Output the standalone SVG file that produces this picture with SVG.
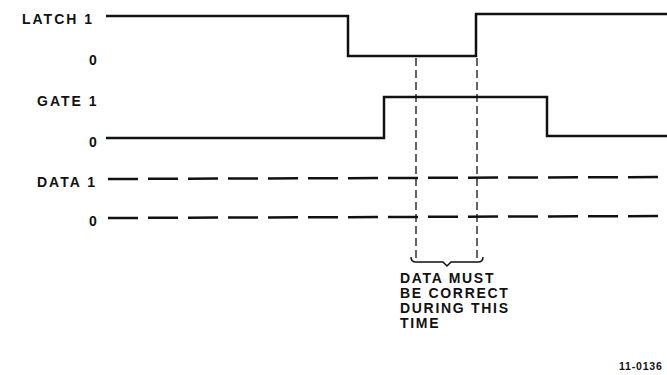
<svg xmlns="http://www.w3.org/2000/svg" width="667" height="375" viewBox="0 0 667 375">
<style>
.lbl{font-family:"Liberation Sans",Arial,sans-serif;font-weight:bold;font-size:14px;fill:#111;letter-spacing:2px}
.note{font-family:"Liberation Sans",Arial,sans-serif;font-weight:bold;font-size:14px;fill:#111;letter-spacing:1.7px}
.sig{fill:none;stroke:#111;stroke-width:2.5;stroke-linejoin:miter}
.dsig{fill:none;stroke:#111;stroke-width:2.5;stroke-dasharray:30 10}
.guide{fill:none;stroke:#111;stroke-width:1.3;stroke-dasharray:8 4}
</style>
<rect width="667" height="375" fill="#fff"/>
<g id="labels">
<text class="lbl" x="22" y="24">LATCH 1</text>
<text class="lbl" x="89" y="65">0</text>
<text class="lbl" x="37" y="106">GATE 1</text>
<text class="lbl" x="89" y="147">0</text>
<text class="lbl" x="37" y="187">DATA 1</text>
<text class="lbl" x="89" y="226">0</text>
</g>
<g id="latch">
<path class="sig" d="M106,16 H348 V56 H476 V14 H667"/>
</g>
<g id="gate">
<path class="sig" d="M106,138 H384 V97 H547 V136 H667"/>
</g>
<g id="data">
<path class="dsig" d="M108,179 L667,177"/>
<path class="dsig" d="M108,218 L667,216"/>
</g>
<g id="connectors">
<path class="guide" d="M416,58 V258"/>
<path class="guide" d="M477,58 V258"/>
<path fill="none" stroke="#111" stroke-width="1.5" d="M411,257 Q411,262 416,262 H443 L447,266 L451,262 H478 Q483,262 483,257"/>
</g>
<g id="note">
<text class="note" x="400" y="283">DATA MUST</text>
<text class="note" x="400" y="298">BE CORRECT</text>
<text class="note" x="400" y="313">DURING THIS</text>
<text class="note" x="400" y="328">TIME</text>
</g>
<text class="note" x="619" y="370" style="font-size:10.5px;letter-spacing:0.8px">11-0136</text>
</svg>
